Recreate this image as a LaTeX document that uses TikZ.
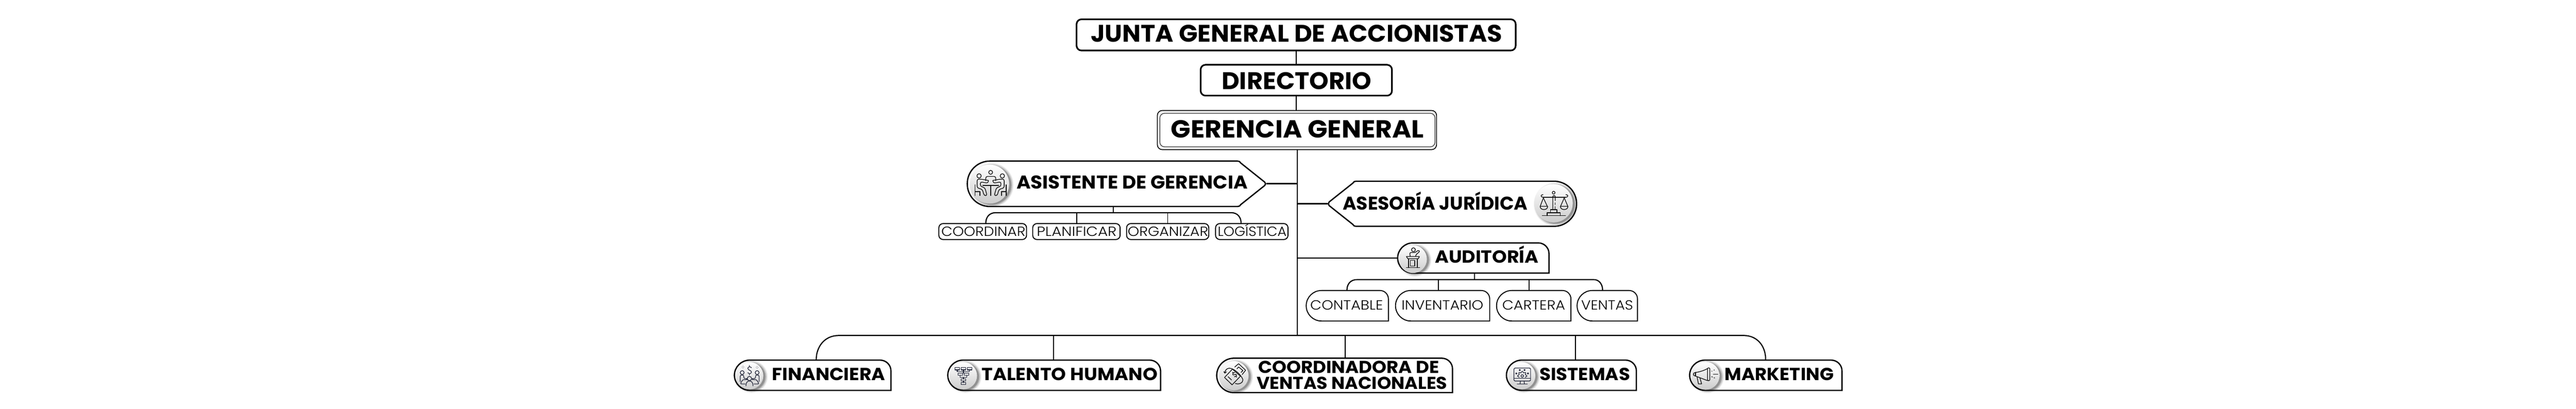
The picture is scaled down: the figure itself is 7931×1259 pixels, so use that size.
\documentclass[tikz,border=0pt]{standalone}
\usepackage{graphicx}
\usepackage{fontspec}
\setmainfont{Poppins}
\newfontfamily\lightfont{Poppins Light}
\usetikzlibrary{calc}
\pgfdeclarelayer{conn}
\pgfdeclarelayer{bg}
\pgfsetlayers{conn,bg,main}
\definecolor{ink}{HTML}{111111}
\definecolor{navy}{HTML}{1C2033}
\definecolor{gband}{HTML}{F2F2F2}
% width of frame, indent, width of text, raise of baseline, text
\newcommand{\T}[5]{\makebox[#1pt][l]{\hspace{#2pt}\raisebox{#4pt}{\resizebox{#3pt}{\height}{#5}}}}
\newcommand{\fsz}[1]{\fontsize{#1pt}{#1pt}\selectfont}
\tikzset{
  frame/.style={inner sep=0pt,outer sep=0pt,text height=0pt,text depth=0pt},
  topbox/.style={frame,draw=black,fill=white,line width=5pt,rounded corners=15pt,font=\fsz{74}\bfseries},
  gerout/.style={frame,draw=black,fill=gband,line width=2.5pt,rounded corners=15pt},
  gerin/.style={frame,draw=black!80,fill=white,line width=2pt,rounded corners=14pt,font=\fsz{76}\bfseries},
  leafbox/.style={frame,draw=black,fill=white,line width=3pt,rounded corners=13pt,font=\fsz{41}\lightfont},
  conthick/.style={draw=black,line width=4.5pt},
  conmid/.style={draw=black,line width=3.5pt},
  conthin/.style={draw=black,line width=3pt},
  icon/.style={draw=ink,line width=2.1pt,line cap=round,line join=round},
  iconnavy/.style={draw=navy,line width=1.9pt,line cap=round,line join=round},
  shapeline/.style={draw=black,fill=white},
}
% name x1 y1 x2 y2 rleft rtopright lw content
\newcommand{\Dbox}[9]{%
  \pgfmathsetmacro{\mcx}{(#2+#4)/2}\pgfmathsetmacro{\mcy}{(#3+#5)/2}%
  \node[frame,minimum width={(#4-#2)*1pt},minimum height={(#5-#3)*1pt}] (#1) at (\mcx,\mcy) {#9};
  \pgfmathsetmacro{\ax}{#2+#8/2}\pgfmathsetmacro{\ay}{#3+#8/2}%
  \pgfmathsetmacro{\bx}{#4-#8/2}\pgfmathsetmacro{\by}{#5-#8/2}%
  \pgfmathsetmacro{\kl}{#6*0.4477}\pgfmathsetmacro{\kt}{#7*0.4477}%
  \begin{pgfonlayer}{bg}
  \draw[shapeline,line width=#8pt] ({\ax+#6},\ay) -- ({\bx-#7},\ay)
    .. controls ({\bx-\kt},\ay) and (\bx,{\ay+\kt}) .. (\bx,{\ay+#7})
    -- (\bx,\by) -- ({\ax+#6},\by)
    .. controls ({\ax+\kl},\by) and (\ax,{\by-\kl}) .. (\ax,{\by-#6})
    -- (\ax,{\ay+#6})
    .. controls (\ax,{\ay+\kl}) and ({\ax+\kl},\ay) .. ({\ax+#6},\ay) -- cycle;
  \end{pgfonlayer}}
% round badge behind an icon: cx cy r
\newcommand{\badge}[3]{%
  \foreach \e/\o in {8/0.05,6/0.07,4/0.09,2/0.12,0/0.18}{%
    \fill[black,opacity=\o] ({#1+6},{#2+3}) circle[radius=#3+\e];}
  \shade[top color=white,bottom color=black!20] (#1,#2) circle[radius=#3];}
\begin{document}
\begin{tikzpicture}[x=1pt,y=-1pt]
\useasboundingbox (0,0) rectangle (7931,1259);
\begin{pgfonlayer}{conn}
\fill[white] (0,0) rectangle (7931,1259);
\end{pgfonlayer}
% ---- top boxes
\node[topbox,minimum width=1352pt,minimum height=96pt] (junta) at (3990.5,107.5)
  {\T{1352}{43.5}{1267}{-22.5}{JUNTA GENERAL DE ACCIONISTAS}};
\node[topbox,minimum width=589pt,minimum height=95pt] (dir) at (3991,247)
  {\T{589}{64.5}{462}{-28}{DIRECTORIO}};
\node[gerout,minimum width=859.5pt,minimum height=120.5pt] (gerout) at (3993,400.5) {};
\node[gerin,minimum width=847pt,minimum height=103pt] (ger) at (3994.5,400.5)
  {\T{847}{34}{779}{-24.5}{GERENCIA GENERAL}};
% ---- Asistente de gerencia (pentagon)
\node[frame,minimum width=923pt,minimum height=144pt,font=\fsz{57}\bfseries] (ast) at (3437.5,566)
  {\T{923}{154}{711}{-16}{ASISTENTE DE GERENCIA}};
\begin{pgfonlayer}{bg}
\draw[shapeline,line width=4pt,line join=round] (3048,496) -- (3810,496) .. controls (3815,496) and (3818,498) .. (3820,502)
  -- (3894,561) .. controls (3897,564) and (3897,568) .. (3894,571) -- (3820,630) .. controls (3818,634) and (3815,636) .. (3810,636)
  -- (3048,636) .. controls (3009,636) and (2978,605) .. (2978,566) .. controls (2978,527) and (3009,496) .. (3048,496) -- cycle;
\badge{3047}{567}{60}
\begin{scope}[shift={(2975,495)},scale=1/3,icon]
  \draw (225,107) circle[radius=18];
  \draw (118,140) circle[radius=20];
  \draw (333,140) circle[radius=20];
  \draw[rounded corners=5pt] (180,185) -- (180,145) -- (272,145) -- (272,185);
  \draw (152,228) -- (300,228);
  \draw (225,228) -- (225,322);
  \draw[rounded corners=5pt] (205,182) -- (135,170) -- (100,170) -- (100,250) -- (148,265) -- (165,322) -- (192,322) -- (172,250) -- (130,235) -- (130,195) -- (200,207) -- (205,182);
  \draw[rounded corners=5pt] (245,182) -- (315,170) -- (350,170) -- (350,250) -- (302,265) -- (285,322) -- (258,322) -- (278,250) -- (320,235) -- (320,195) -- (250,207) -- (245,182);
  \draw (82,222) -- (82,322);
  \draw (82,285) -- (125,285) -- (125,322);
  \draw (368,222) -- (368,322);
  \draw (368,285) -- (325,285) -- (325,322);
\end{scope}
\end{pgfonlayer}
% ---- Asesoria juridica (pentagon, mirrored)
\node[frame,minimum width=769pt,minimum height=143pt,font=\fsz{57}\bfseries] (ase) at (4471.5,627.5)
  {\T{769}{47}{570}{-19.5}{ASESORÍA JURÍDICA}};
\begin{pgfonlayer}{bg}
\draw[shapeline,line width=4pt,line join=round] (4784,558) -- (4175,558) .. controls (4170,558) and (4167,560) .. (4165,564)
  -- (4092,622) .. controls (4089,625) and (4089,630) .. (4092,633) -- (4165,691) .. controls (4167,695) and (4170,697) .. (4175,697)
  -- (4784,697) .. controls (4823,697) and (4854,666) .. (4854,627.5) .. controls (4854,589) and (4823,558) .. (4784,558) -- cycle;
\badge{4783}{626}{59}
\begin{scope}[shift={(4710,556)},scale=1/3,icon]
  \draw (220,112) circle[radius=13];
  \draw (212,262) -- (212,150) .. controls (212,135) and (235,135) .. (235,150) -- (235,185);
  \draw (235,205) -- (235,222);
  \draw (235,240) -- (235,265);
  \draw (125,155) -- (330,155);
  \draw (125,155) .. controls (100,155) and (95,130) .. (122,130);
  \draw (330,155) .. controls (355,155) and (360,130) .. (333,130);
  \draw (125,160) -- (97,235);
  \draw (125,160) -- (160,235);
  \draw (95,238) -- (165,238) .. controls (165,278) and (95,278) .. (95,238) -- cycle;
  \draw (318,160) -- (285,235);
  \draw (318,160) -- (350,235);
  \draw (282,238) -- (352,238) .. controls (352,278) and (282,278) .. (282,238) -- cycle;
  \draw (192,298) -- (192,268) -- (250,268) -- (250,298);
  \draw (160,325) -- (160,298) -- (282,298) -- (282,325);
  \draw (115,325) -- (330,325);
\end{scope}
\end{pgfonlayer}
% ---- Auditoria
\Dbox{aud}{4301}{746}{4771}{843}{47}{33}{4}{\fsz{54}\bfseries\T{470}{117}{319}{-15.5}{AUDITORÍA}}
\begin{pgfonlayer}{bg}
\badge{4350}{798}{43}
\begin{scope}[shift={(4295,745)},scale=1/3,icon]
  \draw (170,72) circle[radius=18];
  \draw[rounded corners=4pt] (140,132) -- (135,98) -- (188,98) -- (215,75) -- (230,88) -- (195,115) -- (190,132);
  \draw (105,135) -- (225,135) -- (215,155) -- (118,155) -- cycle;
  \draw (125,155) -- (125,238);
  \draw (205,155) -- (205,238);
  \draw (140,172) rectangle (182,222);
  \draw (105,238) -- (228,238);
\end{scope}
\end{pgfonlayer}
% ---- leaves of Asistente
\node[leafbox,minimum width=270pt,minimum height=49pt] (coo) at (3025.5,713) {\T{270}{7.5}{259}{-15}{COORDINAR}};
\node[leafbox,minimum width=269pt,minimum height=49pt] (pla) at (3314,713) {\T{269}{12.5}{246}{-15}{PLANIFICAR}};
\node[leafbox,minimum width=253pt,minimum height=49pt] (org) at (3595,713) {\T{253}{3.5}{248}{-15}{ORGANIZAR}};
\node[leafbox,minimum width=223pt,minimum height=49pt] (log) at (3854,713) {\T{223}{6.5}{212}{-15}{LOGÍSTICA}};
% ---- leaves of Auditoria
\Dbox{con}{4020}{893}{4276}{990}{47}{26}{3}{\fsz{41}\lightfont\T{256}{14}{224}{-12.5}{CONTABLE}}
\Dbox{inv}{4295}{893}{4588}{990}{47}{26}{3}{\fsz{41}\lightfont\T{293}{20}{252}{-12.5}{INVENTARIO}}
\Dbox{car}{4606}{893}{4838}{990}{47}{26}{3}{\fsz{41}\lightfont\T{232}{19}{194}{-12.5}{CARTERA}}
\Dbox{ven}{4854}{893}{5043}{990}{47}{26}{3}{\fsz{41}\lightfont\T{189}{14}{160}{-12.5}{VENTAS}}
% ---- bottom row
\Dbox{fin}{2259}{1107}{2745}{1204}{47}{33}{4}{\fsz{54}\bfseries\T{486}{118}{349}{-15.5}{FINANCIERA}}
\Dbox{tal}{2916}{1107}{3575}{1204}{47}{33}{4}{\fsz{54}\bfseries\T{659}{107}{541}{-15.5}{TALENTO HUMANO}}
\Dbox{cor}{3744}{1101}{4474}{1211}{53}{33}{4}{\fsz{53}\bfseries\rlap{\T{730}{130}{557}{7}{COORDINADORA DE}}\T{730}{125}{587}{-42}{VENTAS NACIONALES}}
\Dbox{sis}{4636}{1107}{5040}{1204}{47}{33}{4}{\fsz{54}\bfseries\T{404}{104}{279}{-15.5}{SISTEMAS}}
\Dbox{mkt}{5200}{1107}{5673}{1204}{47}{33}{4}{\fsz{54}\bfseries\T{473}{110}{336}{-15.5}{MARKETING}}
\begin{pgfonlayer}{bg}
% Financiera icon
\badge{2308}{1157}{42}
\begin{scope}[shift={(2255,1105)},scale=1/3,iconnavy]
  \draw plot[smooth] coordinates {(176,82) (158,72) (142,85) (150,100) (170,112) (176,125) (160,138) (142,128)};
  \draw (158,60) -- (158,72);
  \draw (158,138) -- (158,150);
  \foreach \cx/\cy in {97/75,228/78}{
    \fill[navy] (\cx,{\cy-9}) circle[radius=2.5];
    \fill[navy] (\cx,{\cy+9}) circle[radius=2.5];
    \fill[navy] ({\cx-9},\cy) circle[radius=2.5];
    \fill[navy] ({\cx+9},\cy) circle[radius=2.5];}
  \draw (90,127) circle[radius=18];
  \draw (228,127) circle[radius=18];
  \draw (157,182) circle[radius=20];
  \draw (125,250) .. controls (125,215) and (140,205) .. (157,205) .. controls (175,205) and (190,215) .. (190,250);
  \draw[rounded corners=4pt] (72,210) -- (72,150) -- (105,150) -- (105,182) -- (135,182) -- (135,192) -- (95,192) -- (72,232) -- (118,232);
  \draw[rounded corners=4pt] (246,210) -- (246,150) -- (213,150) -- (213,182) -- (183,182) -- (183,192) -- (223,192) -- (246,232) -- (200,232);
\end{scope}
% Talento icon
\badge{2966}{1157}{42}
\begin{scope}[iconnavy]
  \draw (2940,1132) rectangle (2954,1139);
  \draw (2959,1132) rectangle (2973,1139);
  \draw (2978,1132) rectangle (2992,1139);
  \draw (2947,1139) -- (2947,1144) -- (2985,1144) -- (2985,1139);
  \draw (2966,1139) -- (2966,1149);
  \draw (2949,1149) rectangle (2964,1156);
  \draw (2968,1149) rectangle (2983,1156);
  \draw (2956,1156) -- (2956,1162) -- (2976,1162) -- (2976,1156);
  \draw (2966,1162) -- (2966,1167);
  \draw (2959,1167) rectangle (2973,1173.5);
  \draw (2966,1173.5) -- (2966,1178);
  \draw (2959,1178) rectangle (2973,1184.5);
\end{scope}
% Coordinadora icon
\badge{3799}{1157}{45}
\begin{scope}[shift={(3745,1105)},scale=1/3,icon]
  \draw (75,172) -- (148,95) -- (222,160) -- (145,240) -- cycle;
  \draw (170,75) -- (205,45) -- (270,105) -- (238,145);
  \draw (190,92) -- (205,75) -- (245,108) -- (228,125);
  \draw (108,165) -- (140,195);
  \draw (78,130) .. controls (80,95) and (110,78) .. (140,90) .. controls (185,105) and (240,165) .. (245,195) .. controls (245,225) and (205,240) .. (175,228);
  \draw (68,118) -- (78,132) -- (92,120);
  \begin{scope}[shift={(168,146)},rotate=40]
    \draw plot[smooth] coordinates {(14,-14) (0,-20) (-13,-10) (-5,-2) (8,3) (13,12) (0,20) (-14,13)};
    \draw (0,-30) -- (0,-20);
    \draw (0,20) -- (0,30);
  \end{scope}
\end{scope}
% Sistemas icon
\badge{4685}{1157}{42}
\begin{scope}[shift={(4635,1105)},scale=1/3,iconnavy]
  \draw[rounded corners=3pt] (78,85) rectangle (232,205);
  \draw (78,182) -- (232,182);
  \draw (138,205) -- (135,232);
  \draw (172,205) -- (175,232);
  \draw (108,232) -- (202,232);
  \draw (155,158) circle[radius=12];
  \draw plot[smooth,domain=-205:25,samples=70] ({155+(37+6*cos(8*\x))*cos(\x)},{158+(37+6*cos(8*\x))*sin(\x)});
  \draw (132,103) circle[radius=6];
  \draw (176,103) circle[radius=6];
  \draw (100,135) circle[radius=6];
  \draw (208,135) circle[radius=6];
\end{scope}
% Marketing icon
\badge{5251}{1157}{43}
\begin{scope}[icon]
  \draw[rounded corners=1.5pt] (5220,1147) -- (5214,1149) -- (5214,1156) -- (5220,1158);
  \draw (5220,1147) .. controls (5235,1145) and (5248,1140) .. (5257,1135);
  \draw (5220,1158) -- (5257,1172);
  \draw (5220,1147) -- (5220,1158);
  \draw[rounded corners=2pt] (5257,1133) rectangle (5264,1172);
  \draw (5225,1161) -- (5229,1182) -- (5239,1182) -- (5234,1165);
  \draw (5275,1152) -- (5289,1152);
  \draw (5270,1143) -- (5271,1143);
  \draw (5277,1140) -- (5278,1139);
  \draw (5270,1160) -- (5272,1161);
  \draw (5277,1163) -- (5279,1164);
\end{scope}
\end{pgfonlayer}
% ---- connector coordinates
\coordinate (spine) at (3994,1033);
\coordinate (busL) at (2583,1033);
\coordinate (busR) at (5368,1033);
\coordinate (finTop) at (2513,1107);
\coordinate (mktTop) at (5436,1107);
\coordinate (talDrop) at (3244,1033);
\coordinate (corDrop) at (4141,1033);
\coordinate (sisDrop) at (4850,1033);
\coordinate (astStem) at (3428,655);
\coordinate (astL) at (3065,655);
\coordinate (astR) at (3791,655);
\coordinate (cooTop) at (3035,687);
\coordinate (logTop) at (3821,687);
\coordinate (plaStem) at (3315,655);
\coordinate (orgStem) at (3595,655);
\coordinate (audStem) at (4540,861);
\coordinate (audL) at (4178,861);
\coordinate (audR) at (4907,861);
\coordinate (conTop) at (4147,893);
\coordinate (venTop) at (4934,893);
\coordinate (invStem) at (4428,861);
\coordinate (carStem) at (4708,861);
\begin{pgfonlayer}{conn}
\draw[conthin] (junta.south) -- (dir.north);
\draw[conthin] (dir.south) -- (gerout.north -| dir.south);
\draw[conmid] (spine |- gerout.south) -- (spine);
\draw[conthick] (ast.east) -- (ast.east -| spine);
\draw[conthick] (ase.west) -- (ase.west -| spine);
\draw[conmid] (aud.west) -- (aud.west -| spine);
\draw[conmid] (finTop) .. controls (2513,1072) and (2535,1033) .. (busL) -- (busR) .. controls (5410,1033) and (5436,1065) .. (mktTop);
\draw[conthin] (talDrop) -- (talDrop |- tal.north);
\draw[conthin] (corDrop) -- (corDrop |- cor.north);
\draw[conthin] (sisDrop) -- (sisDrop |- sis.north);
\draw[conthin] (ast.south -| astStem) -- (astStem);
\draw[conmid] (cooTop) .. controls (3035,670) and (3045,655) .. (astL) -- (astR) .. controls (3811,655) and (3821,670) .. (logTop);
\draw[conthin] (plaStem) -- (plaStem |- pla.north);
\draw[conthin] (orgStem) -- (orgStem |- org.north);
\draw[conthin] (aud.south -| audStem) -- (audStem);
\draw[conmid] (conTop) .. controls (4147,876) and (4157,861) .. (audL) -- (audR) .. controls (4924,861) and (4934,876) .. (venTop);
\draw[conthin] (invStem) -- (invStem |- inv.north);
\draw[conthin] (carStem) -- (carStem |- car.north);
\end{pgfonlayer}
\end{tikzpicture}
\end{document}
